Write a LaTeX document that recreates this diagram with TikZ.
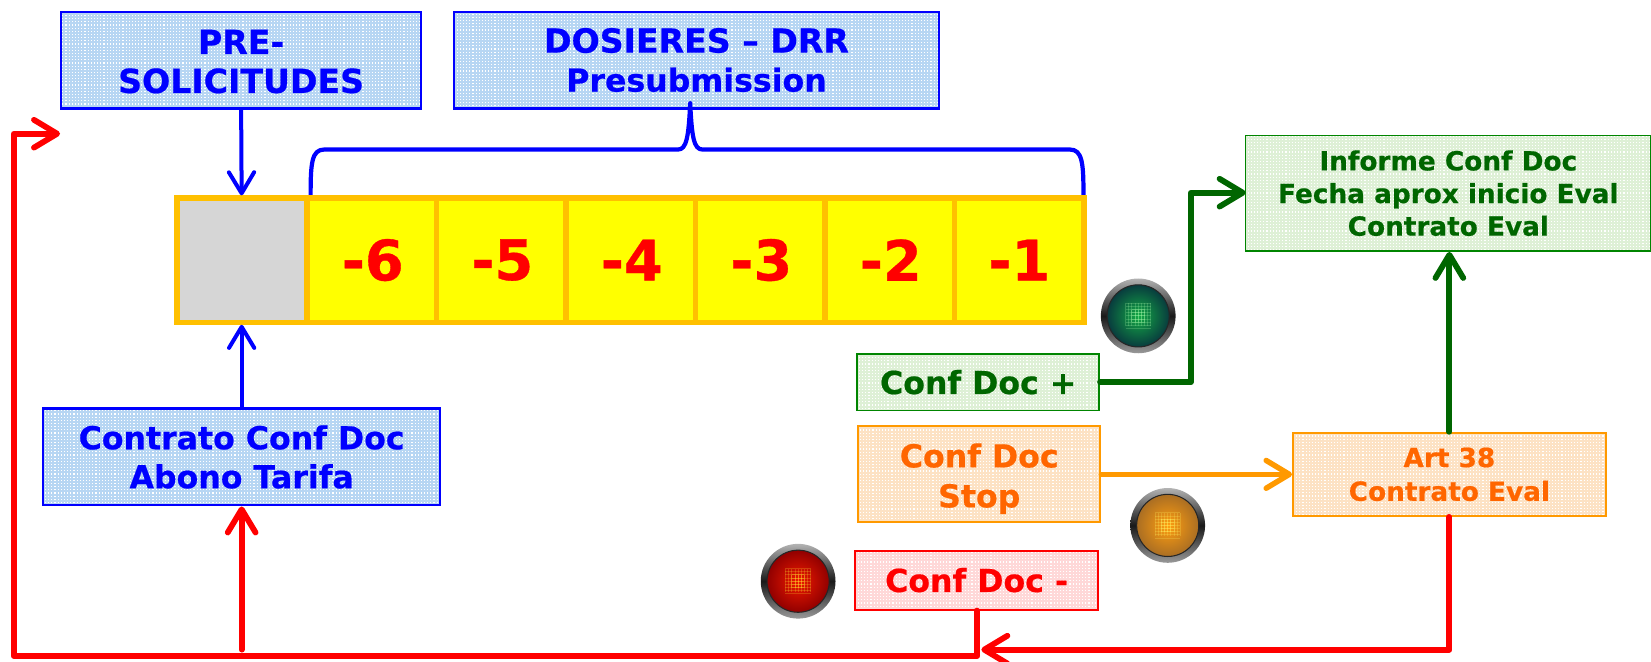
\documentclass[tikz,border=0pt]{standalone}
\usepackage{fontspec}
\setmainfont{DejaVu Sans}[BoldFeatures={FakeBold=0.6}]
\usetikzlibrary{arrows.meta}
\definecolor{bl}{RGB}{0,0,255}
\definecolor{gr}{RGB}{0,102,0}
\definecolor{orb}{RGB}{255,153,0}
\definecolor{ort}{RGB}{255,102,0}
\definecolor{rd}{RGB}{255,0,0}
\definecolor{cellb}{RGB}{255,192,0}
\definecolor{yel}{RGB}{255,255,0}
\definecolor{gy}{RGB}{214,214,214}
\definecolor{mb}{RGB}{183,214,243}
\definecolor{mg}{RGB}{222,240,214}
\definecolor{mo}{RGB}{253,226,196}
\definecolor{mr}{RGB}{255,216,216}
\definecolor{lgi}{RGB}{20,170,70}
\definecolor{lgo}{RGB}{8,60,62}
\definecolor{loi}{RGB}{255,158,16}
\definecolor{loo}{RGB}{170,110,35}
\definecolor{lri}{RGB}{240,25,0}
\definecolor{lro}{RGB}{145,0,0}
\tikzset{x=1pt,y=-1pt,
  mesh/.style={path picture={\draw[line width=1.9pt,#1] ([xshift=-1pt,yshift=-1pt]path picture bounding box.south west) grid[step=3pt] ([xshift=1pt,yshift=1pt]path picture bounding box.north east);}},
  box/.style={draw,rectangle,inner sep=0pt,align=center,font=\bfseries,text=#1},
  bluebox/.style={box=bl,draw=bl,line width=2pt,mesh={mb},fill=white,font=\fontsize{30}{37}\selectfont\bfseries},
  greenbox/.style={box=gr,draw=gr!80!green,line width=1.5pt,mesh={mg},fill=white},
  orangebox/.style={box=ort,draw=orb,line width=1.8pt,mesh={mo},fill=white},
  redbox/.style={box=rd,draw=rd,line width=1.8pt,mesh={mr},fill=white},
  cell/.style={draw=cellb,line width=5pt,fill=yel,minimum height=118pt,inner sep=0pt,text=rd,font=\fontsize{53}{53}\selectfont\bfseries},
  barb/.style={-{Straight Barb[length=#1,width=1.2*#1,round]},line cap=round,line join=round},
  lampouter/.style={circle,minimum size=71pt,inner sep=0pt,top color=black!30,bottom color=black!40,middle color=black!90},
  lampinner/.style={circle,minimum size=59pt,inner sep=0pt,draw=black!85,line width=1pt},
}
\newcommand{\lamp}[6]{%
  \node[lampouter] (#1) at (#2,#3) {};
  \node[lampinner,inner color=#4,outer color=#5] (#1c) at (#1) {};
  \foreach \d in {-12,-9,-6,-3,0,3,6,9,12}{
    \draw[#6,opacity=.22,line width=.8pt] ([xshift=\d pt,yshift=-10pt]#1c.center) -- ([xshift=\d pt,yshift=12pt]#1c.center);
    \draw[#6,opacity=.22,line width=.8pt] ([xshift=-12pt,yshift=\d pt]#1c.center) -- ([xshift=12pt,yshift=\d pt]#1c.center);
  }
  \foreach \d in {-6,-3,0,3,6}{
    \draw[#6,opacity=.3,line width=.8pt] ([xshift=\d pt,yshift=-6pt]#1c.center) -- ([xshift=\d pt,yshift=6pt]#1c.center);
    \draw[#6,opacity=.3,line width=.8pt] ([xshift=-6pt,yshift=\d pt]#1c.center) -- ([xshift=6pt,yshift=\d pt]#1c.center);
  }
}
\begin{document}
\begin{tikzpicture}
\useasboundingbox (0,0) rectangle (1568,627.8);
% boxes
\node[bluebox,minimum width=342pt,minimum height=92pt] (pre) at (229,57) {\rule{0pt}{26pt}\fontsize{31.5}{37}\selectfont PRE-\\\fontsize{31.5}{37}\selectfont SOLICITUDES};
\node[bluebox,minimum width=461pt,minimum height=92pt] (dos) at (661.5,57) {\fontsize{31.5}{37}\selectfont DOSIERES – DRR\\\fontsize{30}{37}\selectfont Presubmission};
\node[bluebox,minimum width=377pt,minimum height=92pt] (cont) at (229.5,434) {Contrato Conf Doc\\Abono Tarifa};
% cells
\node[cell,minimum width=123pt,fill=gy] (c0) at (229.5,247) {};
\node[cell,minimum width=123pt] (c6) at (353,247) {\hspace{2pt}-6};
\node[cell,minimum width=123pt] (c5) at (476,247) {\hspace{2pt}-5};
\node[cell,minimum width=123pt] (c4) at (599,247) {\hspace{2pt}-4};
\node[cell,minimum width=123pt] (c3) at (722,247) {\hspace{2pt}-3};
\node[cell,minimum width=123pt] (c2) at (845,247) {\hspace{2pt}-2};
\node[cell,minimum width=123pt] (c1) at (968,247) {-1};
% right boxes
\node[greenbox,minimum width=385pt,minimum height=110pt,font=\fontsize{25}{31}\selectfont\bfseries] (inf) at (1375.5,183.5) {Informe Conf Doc\\Fecha aprox inicio Eval\\Contrato Eval};
\node[greenbox,minimum width=230pt,minimum height=54pt,font=\fontsize{30}{36}\selectfont\bfseries] (plus) at (929,363) {Conf Doc +};
\node[orangebox,minimum width=230pt,minimum height=91pt,font=\fontsize{30}{38}\selectfont\bfseries] (stop) at (930,450.5) {\rule{0pt}{31pt}Conf Doc\\Stop};
\node[orangebox,minimum width=297pt,minimum height=79pt,font=\fontsize{25}{32}\selectfont\bfseries] (art) at (1376.5,450.5) {Art 38\\Contrato Eval};
\node[redbox,minimum width=231pt,minimum height=56pt,font=\fontsize{30}{36}\selectfont\bfseries] (minus) at (927.5,551) {Conf Doc -};
% lamps
\lamp{lg}{1081}{300}{lgi}{lgo}{green!30!white}
\lamp{lo}{1109}{499}{loi}{loo}{yellow!60!white}
\lamp{lr}{758}{552}{lri}{lro}{yellow!80!white}
% helper coordinates
\coordinate (bL) at (295,185);
\coordinate (bR) at (1029,185);
\coordinate (tip) at (655.5,98);
\coordinate (jr) at (932,617);
\coordinate (jl) at (928,623);
\coordinate (fr) at (57,127);
\coordinate (ct) at (229.5,617);
\coordinate (gc) at (1183,183);
% blue
\draw[bl,line width=3.8pt,barb=20pt] (pre.south) -- (c0.north);
\draw[bl,line width=3.8pt,barb=20pt] (cont.north) -- (c0.south);
\draw[bl,line width=4pt,line join=round]
  (bL) .. controls (295,155) and (296,142) .. (308,142) -- (644,142)
  .. controls (652,142) and (654,130) .. (tip)
  .. controls (657,130) and (659,142) .. (667,142) -- (1016,142)
  .. controls (1028,142) and (1029,155) .. (bR);
% red
\draw[rd,line width=5.5pt,barb=22pt] (ct) -- (cont.south);
\draw[rd,line width=5.5pt,line join=round,barb=22pt] (minus.south) |- (jl) -| (13,127) -- (fr);
\draw[rd,line width=5.5pt,barb=22pt] (art.south) |- (jr);
% green
\draw[gr,line width=5.5pt,barb=22pt] (plus.east) -- (1131,363) |- (gc);
\draw[gr,line width=5.5pt,barb=22pt] (art.north) -- (art.north |- inf.south);
% orange
\draw[orb,line width=5.2pt,barb=22pt] (stop.east) -- (art.west);
\end{tikzpicture}
\end{document}
